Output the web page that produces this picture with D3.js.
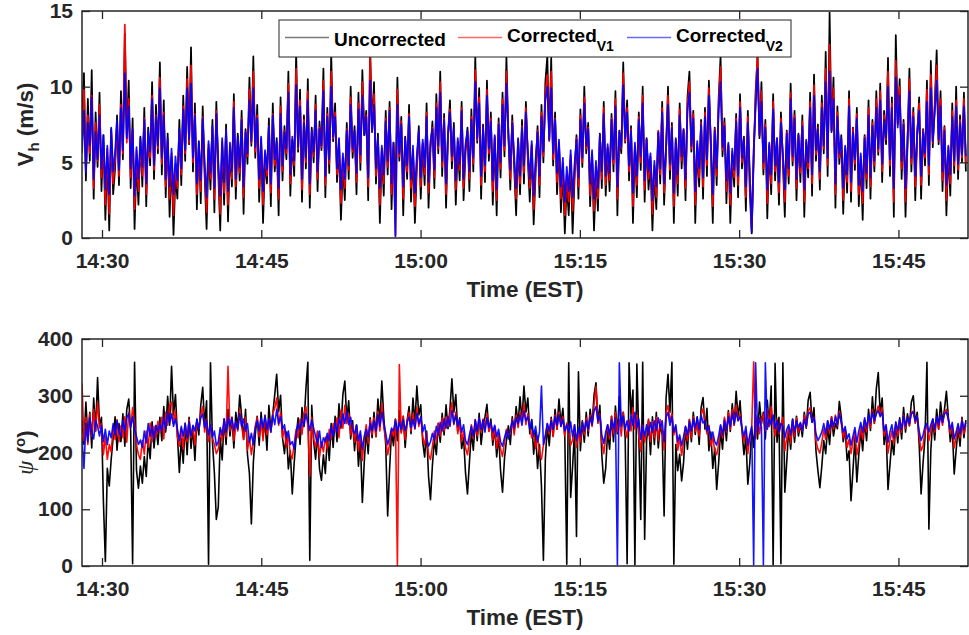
<!DOCTYPE html>
<html><head><meta charset="utf-8">
<script src="https://cdn.jsdelivr.net/npm/d3@7"></script>
<style>body{margin:0;background:#fff;} svg{display:block;font-family:"Liberation Sans",Arial,sans-serif;}</style>
</head><body><svg id="chart" width="969" height="635"></svg>
<script>
// ---------- data ----------
const startTime = "2000-01-01T14:28:07";
const endTime = "2000-01-01T15:51:33";
const sampleStepSeconds = 11;
const timeTickLabels = ["14:30","14:45","15:00","15:15","15:30","15:45"];
const speedTicks = [0,5,10,15];
const dirTicks = [0,100,200,300,400];
const seriesNames = ["Uncorrected","Corrected","Corrected"];
const seriesSubscripts = ["","V1","V2"];
const seriesColors = ["#000000","#ff0000","#0000ff"];

const speedUncorrected = [
7.4,10.9,3.8,9.2,5.1,11.1,2.6,8.3,4.7,9.6,
3.1,6.8,1.2,5.4,0.5,7.2,2.9,4.6,8.1,3.5,
9.7,5.2,13.5,6.8,10.4,3.3,7.9,0.6,5.1,2.2,
6.7,3.4,8.6,2.1,7.3,4.8,10.3,3.9,8.8,5.6,
11.6,4.2,9.1,2.7,6.9,1.4,5.3,0.2,4.1,2.6,
7.8,3.5,9.4,5.1,11.3,6.2,12.6,4.4,8.9,1.9,
6.4,2.3,8.7,4.1,0.6,5.9,3.2,7.8,1.7,9.0,
4.3,0.5,6.1,2.2,7.5,1.1,5.8,3.4,9.5,2.6,
6.9,3.8,8.4,1.6,7.2,4.9,10.6,6.1,12.0,5.3,
8.8,2.4,6.3,1.0,5.2,3.6,7.9,2.1,8.9,4.4,
6.6,1.5,9.3,3.8,7.4,5.2,11.0,2.8,6.5,4.1,
12.3,5.7,9.8,2.4,8.1,4.6,10.5,2.0,7.3,5.0,
9.4,3.1,7.7,5.8,11.2,2.7,8.6,4.3,12.2,6.4,
8.9,3.7,6.2,1.2,4.8,2.5,7.6,3.9,10.0,5.3,
7.4,2.9,9.6,4.5,11.1,6.8,8.4,2.5,12.6,7.2,
10.3,3.6,6.9,1.0,5.7,2.8,8.4,4.2,9.0,1.9,
6.3,3.2,10.6,5.1,8.0,1.5,6.7,3.9,8.8,2.4,
5.6,1.0,4.7,7.4,2.6,6.2,3.5,8.9,2.0,5.9,
7.7,3.3,9.5,5.6,11.0,4.1,8.2,2.0,6.8,9.1,
4.6,7.6,2.2,6.1,3.8,9.0,2.5,5.7,7.3,3.1,
8.5,4.4,12.0,6.3,9.9,2.6,7.5,3.7,10.4,5.1,
8.3,2.2,6.6,1.5,7.9,4.0,9.6,5.4,12.0,6.9,
3.2,8.1,4.6,1.5,6.5,2.9,7.8,3.6,9.0,5.2,
2.4,6.1,0.9,4.3,7.4,2.7,8.8,5.0,10.3,12.0,
6.5,11.9,4.8,8.3,2.9,6.2,1.7,4.4,0.3,3.6,
1.5,5.2,0.3,3.9,6.8,2.6,8.5,4.7,10.0,5.6,
7.6,2.1,5.4,0.5,4.2,1.8,6.9,3.3,9.0,2.8,
5.9,3.1,8.2,4.4,9.7,1.5,7.1,5.6,11.6,6.3,
9.1,3.8,7.4,1.0,6.0,2.7,8.3,4.5,10.0,2.4,
6.6,3.2,5.1,0.5,4.3,1.9,7.0,3.6,9.0,2.2,
5.8,10.0,3.9,7.6,1.0,6.4,2.8,8.9,4.6,7.1,
2.5,9.3,11.0,5.7,8.4,1.0,6.0,3.4,7.8,2.6,
8.6,4.1,10.4,6.0,1.0,7.3,3.5,9.2,12.0,5.4,
7.9,2.3,6.1,1.0,5.5,3.4,8.2,2.7,9.5,4.6,
6.7,1.8,8.4,3.1,0.3,5.2,9.7,12.0,6.6,10.3,
4.2,7.8,1.3,6.1,2.9,9.5,3.8,6.4,2.2,8.3,
5.0,1.4,7.1,3.6,10.2,4.8,8.4,2.5,6.9,3.7,
8.1,1.4,6.3,4.0,9.6,2.8,10.8,5.1,7.5,3.2,
9.4,5.6,12.3,4.1,14.9,7.0,10.6,2.0,8.7,4.9,
6.8,1.6,5.9,3.0,9.7,2.4,7.3,4.5,8.6,2.1,
5.2,1.2,6.8,3.3,9.1,2.6,7.8,4.4,9.7,5.5,
10.2,3.7,8.4,6.2,11.9,4.1,9.3,1.4,13.4,7.6,
10.5,3.9,7.8,1.4,6.1,11.2,4.4,8.6,2.5,6.8,
9.3,2.6,7.2,4.8,10.4,3.5,11.7,6.0,8.8,12.4,
6.2,9.7,3.1,7.4,1.5,5.8,2.8,8.9,4.3,10.0,
3.9,8.1,5.0,9.6,4.4];

const speedCorrectedV1 = [
6.1,9.8,4.4,8.1,5.6,9.4,3.3,7.6,5.1,8.8,
4.0,6.3,2.2,5.9,1.6,7.0,3.6,5.2,7.4,4.1,
8.8,5.6,14.1,6.3,9.2,4.0,7.1,1.9,5.8,3.1,
6.2,4.1,7.9,2.9,6.8,5.3,9.4,4.5,8.1,5.9,
10.6,4.9,8.3,3.4,6.4,2.6,5.6,1.5,4.9,3.3,
7.1,4.2,8.7,5.6,10.5,6.3,11.4,5.0,8.2,2.9,
6.0,3.1,8.0,4.6,1.7,6.2,3.9,7.3,2.6,8.4,
4.8,1.6,6.4,3.0,7.1,2.2,6.0,3.9,9.0,3.4,
6.5,4.3,7.9,2.7,7.0,5.4,9.8,6.3,11.0,5.7,
8.1,3.3,6.6,2.2,5.6,4.1,7.4,3.0,8.2,4.8,
6.3,2.6,8.7,4.4,7.1,5.6,10.2,3.6,6.4,4.8,
11.2,5.9,9.1,3.2,7.8,5.0,9.7,2.9,7.0,5.4,
8.8,3.9,7.3,6.0,10.4,3.5,8.2,4.9,11.0,6.6,
8.3,4.2,6.5,2.3,5.3,3.3,7.2,4.5,9.3,5.7,
7.0,3.7,8.9,5.0,10.3,6.9,8.1,3.4,12.0,7.0,
9.5,4.1,6.6,2.2,5.9,3.6,7.9,4.7,8.6,2.9,
6.1,0.2,9.8,5.4,7.7,2.6,6.5,4.4,8.2,3.3,
5.8,2.1,5.1,7.0,3.4,6.3,4.2,8.3,3.0,6.2,
7.3,4.0,8.9,5.9,10.3,4.7,7.9,2.9,6.7,8.5,
5.1,7.2,3.2,6.4,4.5,8.6,3.3,6.0,7.0,3.9,
8.0,4.9,11.1,6.5,9.3,3.5,7.3,4.4,9.8,5.6,
7.9,3.1,6.7,2.5,7.6,4.6,9.2,5.8,11.0,6.8,
3.9,7.7,5.0,2.6,6.5,3.6,7.4,4.3,8.6,5.5,
3.3,6.2,1.9,4.8,7.1,3.5,8.3,5.4,9.6,10.8,
6.4,11.0,5.2,7.9,3.7,6.3,2.6,4.9,1.5,4.2,
2.4,5.5,1.8,4.4,6.6,3.4,8.1,5.0,9.3,5.9,
7.3,2.8,5.6,1.8,4.7,2.6,6.8,3.9,8.6,3.5,
6.0,3.8,7.9,4.9,9.2,2.6,7.0,5.9,10.9,6.4,
8.6,4.4,7.2,2.1,6.1,3.5,8.0,5.0,9.4,3.2,
6.5,3.9,5.4,1.6,4.8,2.7,7.1,4.2,8.6,3.0,
5.9,9.4,4.5,7.4,2.1,6.5,3.6,8.5,5.1,7.2,
3.3,8.8,10.3,5.9,8.2,2.2,6.2,4.0,7.6,3.4,
8.3,4.8,9.9,6.2,2.1,7.2,4.1,8.8,11.3,5.8,
7.6,3.1,6.2,2.2,5.7,4.0,7.9,3.5,9.0,5.0,
6.6,2.7,8.0,3.8,0.6,5.6,9.1,12.3,6.8,9.7,
4.6,7.5,2.3,6.2,3.6,9.0,4.4,6.6,3.0,7.9,
5.3,2.4,7.0,4.1,9.6,5.1,8.1,3.3,6.8,4.3,
7.7,2.4,6.4,4.6,9.0,3.6,10.1,5.5,7.3,3.9,
8.9,5.9,11.2,4.8,12.8,7.1,9.9,2.9,8.3,5.3,
6.6,2.5,6.0,3.7,9.2,3.1,7.2,4.9,8.2,2.9,
5.4,2.3,6.7,3.9,8.6,3.4,7.6,4.8,9.2,5.7,
9.7,4.4,8.1,6.5,11.0,4.8,8.9,2.4,11.7,7.5,
10.0,4.6,7.6,2.4,6.3,10.5,4.9,8.3,3.4,6.9,
8.9,3.5,7.1,5.3,9.8,4.2,10.8,6.3,8.6,11.4,
6.4,9.2,3.8,7.3,2.5,6.0,3.6,8.4,4.8,9.1,
4.5,7.8,5.3,9.2,4.9];

const speedCorrectedV2 = [
5.6,8.4,4.3,7.6,6.1,9.3,3.9,7.0,5.2,8.1,
4.6,6.8,3.2,6.1,2.9,7.3,4.4,5.7,7.8,4.5,
8.6,5.8,10.9,6.6,8.7,4.6,7.2,2.8,6.0,3.9,
6.6,4.7,7.8,3.6,7.1,5.7,9.2,4.8,8.0,6.1,
9.9,5.3,8.1,3.9,6.6,3.4,5.9,2.9,5.4,3.8,
7.2,4.6,8.5,5.8,9.9,6.5,10.2,5.3,8.1,3.6,
6.3,3.8,7.9,4.9,2.7,6.4,4.3,7.4,3.3,8.2,
5.0,2.8,6.6,3.7,7.2,3.1,6.3,4.4,8.6,3.9,
6.7,4.7,7.8,3.4,7.0,5.6,9.1,6.4,9.9,6.0,
7.9,3.9,6.7,3.1,5.8,4.5,7.4,3.6,8.1,5.2,
6.4,3.3,8.2,4.8,7.0,5.9,9.6,4.2,6.7,5.1,
10.1,6.0,8.7,3.9,7.6,5.3,9.1,3.6,7.1,5.7,
8.4,4.4,7.2,6.1,9.7,4.1,8.0,5.2,10.0,6.7,
8.0,4.6,6.6,3.2,5.6,3.9,7.1,4.8,8.8,5.9,
7.1,4.3,8.5,5.5,9.4,6.8,8.0,4.0,10.4,7.0,
8.8,4.6,6.7,3.3,6.1,4.2,7.7,5.1,8.4,3.6,
6.3,0.1,8.8,5.6,7.5,3.4,6.6,4.8,8.0,3.9,
6.1,3.0,5.5,7.1,4.0,6.5,4.7,8.0,3.7,6.4,
7.2,4.5,8.6,6.1,9.6,5.1,7.8,3.6,6.9,8.3,
5.4,7.3,3.8,6.6,4.9,8.4,3.9,6.2,7.1,4.4,
7.8,5.3,10.3,6.6,8.9,4.1,7.3,4.8,9.4,5.9,
7.7,3.8,6.8,3.2,7.5,5.0,8.8,6.1,10.2,6.9,
4.5,7.6,5.4,3.3,6.6,4.1,7.3,4.8,8.3,5.8,
3.9,6.4,2.8,5.2,7.0,4.1,8.0,5.7,9.1,10.0,
6.5,9.9,5.6,7.8,4.3,6.5,3.4,5.3,2.4,4.7,
3.1,5.8,2.7,4.9,6.5,4.0,7.8,5.3,8.9,6.1,
7.2,3.6,5.8,2.6,5.1,3.3,6.8,4.4,8.2,4.1,
6.2,4.3,7.8,5.2,8.7,3.4,7.0,6.0,10.1,6.6,
8.3,4.8,7.1,3.0,6.3,4.1,7.8,5.4,8.9,3.8,
6.5,4.4,5.6,2.5,5.1,3.4,7.0,4.6,8.3,3.6,
6.0,8.8,4.9,7.3,3.0,6.6,4.2,8.1,5.4,7.2,
3.9,8.4,9.6,6.1,7.9,3.1,6.4,4.6,7.5,4.0,
8.0,5.2,9.4,6.4,2.9,7.1,4.6,8.4,10.3,6.0,
7.4,3.8,6.3,3.0,5.9,4.5,7.7,4.1,8.6,5.3,
6.6,3.4,7.6,4.4,0.4,5.8,8.6,11.2,6.8,9.0,
5.0,7.3,3.2,6.3,4.2,8.5,4.8,6.6,3.7,7.6,
5.6,3.2,6.9,4.6,9.2,5.4,7.9,3.9,6.8,4.7,
7.4,3.2,6.5,5.0,8.6,4.2,9.4,5.8,7.2,4.4,
8.6,6.1,10.3,5.3,11.0,7.1,9.2,3.6,8.0,5.6,
6.6,3.3,6.1,4.2,8.7,3.7,7.0,5.2,7.9,3.5,
5.6,3.1,6.6,4.3,8.1,4.0,7.4,5.1,8.6,5.9,
9.1,4.9,7.8,6.6,10.0,5.2,8.6,3.3,10.6,7.3,
9.4,5.1,7.5,3.3,6.4,9.7,5.3,8.0,4.1,6.9,
8.4,4.1,7.0,5.6,9.0,4.8,9.9,6.4,8.3,10.4,
6.5,8.7,4.4,7.1,3.5,6.1,4.2,8.0,5.1,8.7,
4.9,7.6,5.5,8.7,5.4];

const dirUncorrected = [
258,214,289,226,271,208,296,238,332,247,
262,113,8,172,141,188,226,263,204,251,
219,268,211,276,294,238,4,359,168,137,
176,146,193,158,222,189,254,208,247,214,
262,221,281,236,299,248,352,266,302,231,
165,224,181,251,196,262,207,243,186,259,
231,283,315,248,291,3,358,219,164,82,
104,226,187,259,214,276,229,262,208,271,
242,301,264,223,276,196,163,74,182,231,
264,213,271,228,256,204,283,239,268,302,
338,272,301,226,198,236,171,203,127,182,
228,261,214,279,246,312,359,10,283,219,
188,237,171,151,196,163,228,186,251,209,
264,219,286,243,302,326,258,291,224,256,
203,248,176,221,112,184,239,198,261,226,
271,228,294,251,326,263,214,88,171,238,
212,259,221,274,236,264,209,256,281,233,
296,251,317,266,284,219,192,238,158,117,
178,223,196,251,218,269,231,284,242,276,
330,271,302,238,261,207,226,164,127,183,
236,204,258,221,269,214,247,263,285,238,
259,213,244,192,231,168,130,189,221,247,
214,263,236,281,249,298,256,317,271,296,
233,258,197,236,172,214,141,10,188,247,
212,262,229,276,241,294,251,278,226,3,
358,121,176,238,52,342,203,256,218,271,
229,276,248,301,323,252,283,196,146,172,
238,206,264,219,282,233,298,248,271,226,
4,358,267,310,2,356,228,82,359,47,
221,257,196,263,214,271,208,248,232,88,
296,338,271,359,3,214,168,197,150,183,
243,206,258,219,271,232,263,214,279,297,
241,278,203,236,172,208,135,181,238,206,
259,221,274,237,286,248,308,262,291,239,
196,228,144,181,242,209,266,224,289,251,
271,224,292,246,317,2,357,218,262,4,
358,130,184,243,206,259,218,264,229,251,
228,271,243,292,306,254,279,203,168,138,
176,221,198,246,214,263,229,251,242,290,
263,219,241,186,203,115,168,226,148,196,
238,203,256,221,276,239,298,251,312,341,
268,296,214,243,135,178,221,196,252,217,
261,224,279,236,268,247,289,300,252,271,
216,127,181,226,359,65,204,259,222,276,
241,289,253,276,308,262,219,246,162,204,
243,211,262,226,257];

const dirCorrectedV1 = [
322,221,262,214,268,229,276,238,289,243,
251,196,228,188,214,201,246,223,258,219,
247,226,263,218,271,244,279,251,214,196,
188,221,197,238,209,252,219,246,226,255,
236,262,224,271,248,283,289,251,272,228,
211,243,206,252,219,258,226,247,213,256,
242,266,281,236,259,219,248,226,214,198,
206,241,219,259,228,352,238,262,221,254,
238,276,246,223,262,204,226,196,221,247,
262,228,258,221,266,231,259,236,269,278,
296,248,271,226,242,209,231,197,189,216,
241,226,259,232,268,281,246,158,262,224,
209,238,192,218,201,227,206,241,223,251,
238,261,226,274,243,283,251,268,231,249,
218,246,203,232,186,224,249,216,259,232,
261,228,273,238,286,244,223,196,214,241,
229,258,0,355,234,264,222,256,271,238,
268,241,279,246,262,228,213,236,196,188,
211,238,219,252,229,261,238,263,246,268,
288,249,271,233,254,219,238,208,196,221,
249,226,257,229,261,236,259,243,268,237,
253,222,246,207,233,206,193,218,241,226,
236,259,231,266,244,271,258,286,249,268,
246,226,238,207,229,198,188,213,226,251,
233,259,228,266,241,271,246,263,229,252,
241,213,222,249,209,236,219,254,231,261,
238,266,246,284,316,252,268,219,198,226,
249,224,264,233,271,236,258,229,271,244,
226,257,238,279,241,266,229,202,248,218,
238,259,219,254,226,262,221,258,239,204,
271,283,256,268,231,246,204,226,195,218,
246,221,258,226,263,237,252,229,266,277,
256,233,248,211,228,203,196,214,247,226,
262,236,271,241,276,248,284,256,268,241,
218,238,198,226,243,360,224,262,233,257,
268,238,277,246,281,251,229,259,233,249,
262,203,226,244,216,257,229,261,236,251,
238,266,244,273,279,256,262,221,206,199,
218,241,223,256,234,263,241,266,247,272,
251,226,241,209,223,198,219,237,196,214,
246,223,258,236,264,244,276,252,271,282,
266,279,229,246,199,221,238,216,251,229,
258,236,266,243,261,248,271,273,252,264,
229,203,212,238,249,221,239,258,236,262,
241,266,248,271,276,258,233,249,208,226,
248,226,259,233,248];

const dirCorrectedV2 = [
226,172,251,219,261,236,224,257,246,229,
248,219,241,214,238,226,251,231,256,236,
229,256,238,262,268,244,263,241,228,214,
222,209,238,217,251,229,246,224,248,236,
251,238,262,241,271,252,268,246,259,242,
221,246,229,251,226,254,229,248,238,258,
241,261,268,244,257,231,249,227,238,212,
219,244,231,259,236,263,246,261,239,254,
241,268,246,259,238,251,218,234,214,243,
256,238,261,244,265,241,259,236,266,249,
276,251,263,241,249,226,238,214,219,206,
233,251,241,259,246,268,254,239,257,243,
228,216,238,209,226,219,234,221,246,229,
253,236,259,248,268,251,272,249,262,241,
233,249,221,238,206,229,241,228,251,239,
256,238,266,246,271,252,234,214,226,243,
238,256,236,253,241,258,239,253,262,244,
258,243,269,251,263,236,249,224,211,219,
234,222,246,231,253,238,259,243,263,246,
274,251,266,246,258,236,249,221,214,231,
246,229,256,238,261,241,257,236,261,244,
253,236,248,228,241,219,211,226,238,224,
241,256,243,261,251,266,248,273,256,263,
241,256,229,246,219,236,317,214,231,251,
238,256,241,263,248,266,246,258,238,249,
236,254,228,249,221,244,229,253,238,256,
241,262,249,273,281,256,266,231,216,236,
249,231,258,243,261,2,358,246,264,241,
256,238,266,248,271,244,259,223,246,229,
249,231,253,236,256,239,261,243,256,219,
262,271,248,263,236,249,219,231,212,228,
246,231,254,238,259,243,262,241,266,252,
256,238,246,224,236,219,213,229,249,231,
256,239,263,246,269,251,271,256,263,243,
228,246,213,231,246,2,358,236,261,244,
2,358,241,259,249,266,243,256,236,251,
246,226,241,249,231,258,236,256,244,253,
238,258,246,268,271,253,262,233,221,228,
236,251,233,256,241,259,246,263,249,268,
254,236,246,224,233,213,229,244,218,238,
253,236,261,243,266,251,271,256,268,274,
263,271,238,249,218,236,249,226,254,239,
258,241,264,247,262,251,268,271,256,263,
238,221,231,246,251,236,249,259,241,263,
249,266,253,268,271,259,241,253,224,236,
251,233,256,241,253];

// ---------- chart ----------
const svg = d3.select("#chart");
const axisColor = "#262626";
const L = 82, R = 968;
const t0 = new Date(startTime);
const x = d3.scaleTime().domain([t0, new Date(endTime)]).range([L, R]);
const sampleTime = i => new Date(t0.getTime() + i * sampleStepSeconds * 1000);
const tickDates = timeTickLabels.map(s => new Date("2000-01-01T" + s + ":00"));
const fmt = d3.timeFormat("%H:%M");

const panels = [
  {top: 11, bottom: 238, domain: [0, 15], ticks: speedTicks, lineWidth: 1.75,
   series: [speedUncorrected, speedCorrectedV1, speedCorrectedV2], id: "p1"},
  {top: 339, bottom: 566, domain: [0, 400], ticks: dirTicks, lineWidth: 1.6,
   series: [dirUncorrected, dirCorrectedV1, dirCorrectedV2], id: "p2"}
];
const seriesOpacity = [1, 0.95, 0.92];

function styleAxis(g) {
  g.select(".domain").remove();
  g.selectAll(".tick line").attr("stroke", axisColor).attr("stroke-width", 1.3);
  g.selectAll(".tick text").attr("fill", axisColor).attr("font-size", 21)
    .attr("font-weight", "bold").attr("font-family", '"Liberation Sans", Arial, sans-serif');
}

panels.forEach(p => {
  const y = d3.scaleLinear().domain(p.domain).range([p.bottom, p.top]);
  svg.append("clipPath").attr("id", "clip-" + p.id)
    .append("rect").attr("x", L).attr("y", p.top).attr("width", R - L).attr("height", p.bottom - p.top);
  const line = d3.line().x((d, i) => x(sampleTime(i))).y(d => y(d));
  const g = svg.append("g").attr("clip-path", "url(#clip-" + p.id + ")");
  p.series.forEach((s, k) => {
    g.append("path").datum(s).attr("d", line).attr("fill", "none")
      .attr("stroke", seriesColors[k]).attr("stroke-width", p.lineWidth)
      .attr("stroke-opacity", seriesOpacity[k]).attr("stroke-linejoin", "round");
  });
  svg.append("g").attr("transform", `translate(0,${p.bottom})`)
    .call(d3.axisBottom(x).tickValues(tickDates).tickFormat(fmt).tickSize(-8).tickPadding(15))
    .call(styleAxis);
  svg.append("g").attr("transform", `translate(0,${p.top})`)
    .call(d3.axisTop(x).tickValues(tickDates).tickFormat("").tickSize(-8))
    .call(styleAxis);
  svg.append("g").attr("transform", `translate(${L},0)`)
    .call(d3.axisLeft(y).tickValues(p.ticks).tickSize(-8).tickPadding(9))
    .call(styleAxis);
  svg.append("g").attr("transform", `translate(${R},0)`)
    .call(d3.axisRight(y).tickValues(p.ticks).tickFormat("").tickSize(-8))
    .call(styleAxis);
  svg.append("rect").attr("x", L).attr("y", p.top).attr("width", R - L).attr("height", p.bottom - p.top)
    .attr("fill", "none").attr("stroke", axisColor).attr("stroke-width", 1.5);
  svg.append("text").attr("x", (L + R) / 2).attr("y", p.bottom + 59)
    .attr("text-anchor", "middle").attr("font-size", 22.5).attr("font-weight", "bold")
    .attr("fill", axisColor).text("Time (EST)");
});

// y titles
const yt1 = svg.append("text").attr("transform", `translate(33,${(panels[0].top + panels[0].bottom) / 2}) rotate(-90)`)
  .attr("text-anchor", "middle").attr("font-size", 22.5).attr("font-weight", "bold").attr("fill", axisColor);
yt1.append("tspan").text("V");
yt1.append("tspan").attr("dy", 6).attr("font-size", 15).text("h");
yt1.append("tspan").attr("dy", -6).text(" (m/s)");

const yt2 = svg.append("text").attr("transform", `translate(33,${(panels[1].top + panels[1].bottom) / 2}) rotate(-90)`)
  .attr("text-anchor", "middle").attr("font-size", 22.5).attr("fill", axisColor);
yt2.append("tspan").attr("font-family", '"Liberation Serif", "DejaVu Serif", serif').attr("font-style", "italic").text("ψ");
yt2.append("tspan").attr("font-weight", "bold").text(" (");
yt2.append("tspan").attr("font-weight", "bold").attr("font-size", 15).attr("dy", -8).text("o");
yt2.append("tspan").attr("font-weight", "bold").attr("dy", 8).text(")");

// legend
const lg = svg.append("g");
lg.append("rect").attr("x", 279).attr("y", 20).attr("width", 512).attr("height", 37)
  .attr("fill", "#fff").attr("stroke", axisColor).attr("stroke-width", 1);
const legendLineX = [285, 458, 627];
const legendTextX = [334, 507, 676];
const legendLineColors = ["#7a7a7a", "#ff6a6a", "#6a6aff"];
seriesNames.forEach((name, k) => {
  lg.append("line").attr("x1", legendLineX[k]).attr("x2", legendLineX[k] + 44)
    .attr("y1", 37.5).attr("y2", 37.5).attr("stroke", legendLineColors[k]).attr("stroke-width", 1.5);
  const t = lg.append("text").attr("x", legendTextX[k]).attr("y", seriesSubscripts[k] ? 42 : 45.5)
    .attr("font-size", 19).attr("font-weight", "bold").attr("fill", "#000");
  t.append("tspan").text(name);
  if (seriesSubscripts[k]) t.append("tspan").attr("dy", 8.5).attr("font-size", 14).text(seriesSubscripts[k]);
});
</script></body></html>
